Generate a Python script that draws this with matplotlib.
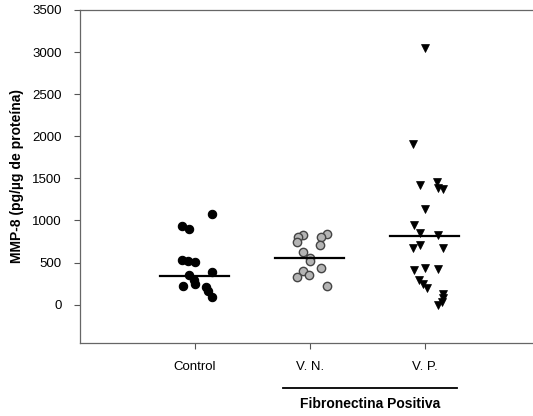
import numpy as np
import matplotlib.pyplot as plt
from matplotlib.transforms import blended_transform_factory

plt.rcParams['font.family'] = ['Liberation Sans', 'DejaVu Sans']

groups = ['Control', 'V. N.', 'V. P.']

# MMP-8 values, with horizontal jitter (category units)
control = [1076, 937, 901, 534, 522, 510, 356, 383, 217, 297, 245, 210, 166, 87]
control_dx = [0.145, -0.11, -0.05, -0.11, -0.06, 0.0, -0.05, 0.15, -0.10, -0.01, 0.0, 0.10, 0.11, 0.15]

vn = [830, 803, 739, 842, 803, 712, 620, 553, 514, 435, 395, 356, 324, 225]
vn_dx = [-0.06, -0.10, -0.11, 0.145, 0.095, 0.085, -0.06, 0.0, 0.0, 0.10, -0.06, -0.005, -0.11, 0.15]

vp = [3045, 1910, 1420, 1460, 1390, 1370, 1135, 949, 850, 830, 712, 672, 672,
      435, 423, 415, 297, 249, 198, 130, 79, 27, 0]
vp_dx = [0.0, -0.10, -0.045, 0.105, 0.115, 0.155, 0.005, -0.095, -0.04, 0.11, -0.045, -0.10, 0.155,
         0.005, 0.11, -0.095, -0.05, -0.02, 0.015, 0.155, 0.155, 0.145, 0.11]

# horizontal bars drawn in the original
group_lines = [340, 555, 810]

fig = plt.figure(figsize=(5.33, 4.16), dpi=100)
ax = fig.add_axes([80/533, 1 - 343/416, 453/533, 333/416])

ax.plot(1 + np.array(control_dx), control, 'o', ms=6, mfc='black', mec='black', mew=0.8)
ax.plot(2 + np.array(vn_dx), vn, 'o', ms=6, mfc='#b4b4b4', mec='#444444', mew=1.0)
ax.plot(3 + np.array(vp_dx), vp, 'v', ms=6, mfc='black', mec='black', mew=0.5)

for i, m in enumerate(group_lines):
    ax.plot([i + 1 - 0.3, i + 1 + 0.3], [m, m], color='black', lw=1.6)

ax.set_xlim(0, 3.94)
ax.set_ylim(-455, 3500)
ax.set_yticks(np.arange(0, 3501, 500))
ax.set_xticks([1, 2, 3])
ax.set_xticklabels(groups)
ax.tick_params(axis='both', direction='out', length=4, width=0.8, color='#555555', labelsize=9.5)
ax.tick_params(axis='y', pad=9)
ax.tick_params(axis='x', pad=9)
ax.spines['right'].set_visible(False)
for s in ['left', 'top', 'bottom']:
    ax.spines[s].set_color('#666666')
    ax.spines[s].set_linewidth(0.9)

ax.set_ylabel('MMP-8 (pg/µg de proteína)', fontsize=10, fontweight='bold', labelpad=6)

# group bracket under V.N. and V.P.
tr = blended_transform_factory(ax.transData, fig.transFigure)
ax.plot([1.765, 3.28], [1 - 388/416, 1 - 388/416], color='black', lw=1.3,
        transform=tr, clip_on=False)
ax.text((1.765 + 3.28) / 2, 1 - 404/416, 'Fibronectina Positiva', transform=tr,
        ha='center', va='center', fontsize=10, fontweight='bold')

fig.savefig('out.png', dpi=100)
